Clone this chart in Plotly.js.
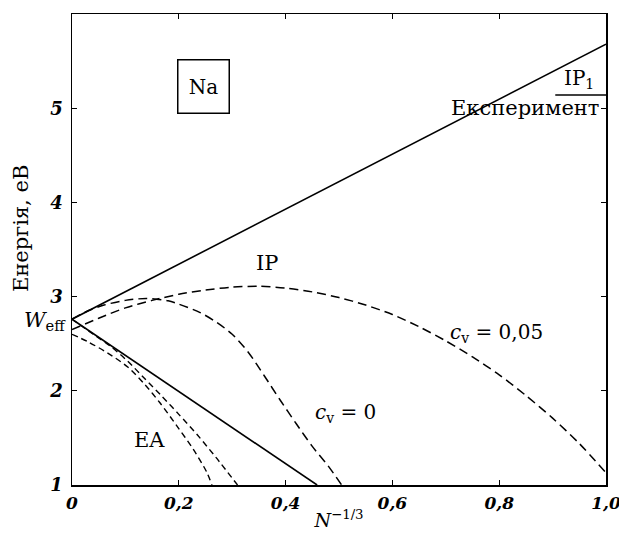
<!DOCTYPE html>
<html>
<head>
<meta charset="utf-8">
<script src="https://cdn.plot.ly/plotly-3.0.1.min.js"></script>
<style>
  html, body { margin: 0; padding: 0; background: #fff; }
  #chart { width: 619px; height: 538px; }
</style>
</head>
<body>
<div id="chart"></div>
<script>
// ---- data ----
const xTickVals = [0, 0.2, 0.4, 0.6, 0.8, 1.0];
const xTickText = ['0', '0,2', '0,4', '0,6', '0,8', '1,0'];
const yTickVals = [1, 2, 3, 4, 5];
const yTickText = ['1', '2', '3', '4', '5'];

// solid lines (experiment-based straight lines)
const ipSolidX = [0, 1.0];
const ipSolidY = [2.76, 5.68];
const eaSolidX = [0, 0.459];
const eaSolidY = [2.76, 1.0];

// dashed IP curves
const ipCv0X = [0, 0.03, 0.06, 0.10, 0.14, 0.18, 0.20, 0.24, 0.27, 0.30, 0.33, 0.36, 0.39, 0.42, 0.45, 0.48, 0.505];
const ipCv0Y = [2.76, 2.85, 2.91, 2.96, 2.98, 2.955, 2.92, 2.83, 2.73, 2.60, 2.41, 2.16, 1.90, 1.65, 1.41, 1.20, 1.0];
const ipCv005X = [0, 0.05, 0.10, 0.15, 0.20, 0.25, 0.30, 0.35, 0.40, 0.45, 0.50, 0.55, 0.60, 0.65, 0.70, 0.75, 0.80, 0.85, 0.90, 0.95, 1.0];
const ipCv005Y = [2.65, 2.77, 2.88, 2.96, 3.025, 3.07, 3.10, 3.11, 3.09, 3.05, 2.99, 2.91, 2.81, 2.68, 2.53, 2.36, 2.17, 1.95, 1.71, 1.44, 1.13];

// dashed EA curves
const ea1X = [0, 0.03, 0.067, 0.105, 0.136, 0.165, 0.196, 0.227, 0.252, 0.262];
const ea1Y = [2.60, 2.52, 2.40, 2.25, 2.07, 1.87, 1.63, 1.38, 1.14, 1.0];
const ea2X = [0, 0.04, 0.075, 0.105, 0.136, 0.167, 0.20, 0.235, 0.27, 0.31];
const ea2Y = [2.76, 2.60, 2.46, 2.31, 2.13, 1.95, 1.75, 1.53, 1.29, 1.0];

// experimental first ionization potential of Na
const expIP1X = [0.905, 1.0];
const expIP1Y = [5.139, 5.139];

const serif = 'DejaVu Serif';

const traces = [
  {x: ipSolidX, y: ipSolidY, mode: 'lines', line: {color: '#000', width: 1.6}},
  {x: eaSolidX, y: eaSolidY, mode: 'lines', line: {color: '#000', width: 1.6}},
  {x: ipCv0X, y: ipCv0Y, mode: 'lines', line: {color: '#000', width: 1.5, dash: '9px,5px', shape: 'spline', smoothing: 0.8}},
  {x: ipCv005X, y: ipCv005Y, mode: 'lines', line: {color: '#000', width: 1.5, dash: '9px,5px', shape: 'spline', smoothing: 0.8}},
  {x: ea1X, y: ea1Y, mode: 'lines', line: {color: '#000', width: 1.4, dash: '6px,4px', shape: 'spline', smoothing: 0.8}},
  {x: ea2X, y: ea2Y, mode: 'lines', line: {color: '#000', width: 1.4, dash: '6px,4px', shape: 'spline', smoothing: 0.8}},
  {x: expIP1X, y: expIP1Y, mode: 'lines', line: {color: '#000', width: 1.5}, cliponaxis: false}
];

const annFont = {family: serif, size: 20, color: '#000'};

const layout = {
  width: 619,
  height: 538,
  margin: {l: 72, r: 13, t: 14, b: 53},
  paper_bgcolor: '#fff',
  plot_bgcolor: '#fff',
  showlegend: false,
  font: {family: serif, color: '#000'},
  xaxis: {
    range: [0, 1.0],
    tickvals: xTickVals,
    ticktext: xTickText,
    ticks: 'inside',
    ticklen: 5,
    tickwidth: 1.2,
    tickcolor: '#000',
    showline: true,
    linecolor: '#000',
    linewidth: 1.5,
    mirror: 'ticks',
    showgrid: false,
    zeroline: false,
    ticklabelstandoff: 2,
    ticklabeloverflow: 'allow',
    tickfont: {family: serif, size: 17, style: 'italic', weight: 'bold', color: '#000'},
    title: {text: '<i>N</i><sup>−1/3</sup>', font: {family: serif, size: 19, color: '#000'}, standoff: 2}
  },
  yaxis: {
    range: [1, 6],
    tickvals: yTickVals,
    ticktext: yTickText,
    ticks: 'inside',
    ticklen: 5,
    tickwidth: 1.2,
    tickcolor: '#000',
    showline: true,
    linecolor: '#000',
    linewidth: 1.5,
    mirror: 'ticks',
    showgrid: false,
    zeroline: false,
    ticklabelstandoff: 4,
    tickfont: {family: serif, size: 18, style: 'italic', weight: 'bold', color: '#000'}
  },
  annotations: [
    {text: 'Енергія, еВ', xref: 'paper', yref: 'y', x: -0.095, y: 3.72, xanchor: 'center', yanchor: 'middle',
     textangle: -90, showarrow: false, font: {family: serif, size: 21, color: '#000'}},
    {text: '<i>W</i><sub>eff</sub>', xref: 'paper', yref: 'y', x: -0.008, y: 2.74, xanchor: 'right', yanchor: 'middle',
     showarrow: false, font: {family: serif, size: 21, color: '#000'}},
    {text: 'Na', xref: 'x', yref: 'y', x: 0.247, y: 5.23, xanchor: 'center', yanchor: 'middle', showarrow: false,
     font: annFont, bordercolor: '#000', borderwidth: 1.5, borderpad: 2, width: 46, height: 48},
    {text: 'IP', xref: 'x', yref: 'y', x: 0.366, y: 3.36, showarrow: false, font: {family: serif, size: 21, color: '#000'}},
    {text: 'EA', xref: 'x', yref: 'y', x: 0.146, y: 1.48, showarrow: false, font: {family: serif, size: 21, color: '#000'}},
    {text: '<i>c</i><sub>v</sub> = 0', xref: 'x', yref: 'y', x: 0.452, y: 1.76, xanchor: 'left', showarrow: false, font: annFont},
    {text: '<i>c</i><sub>v</sub> = 0,05', xref: 'x', yref: 'y', x: 0.705, y: 2.61, xanchor: 'left', showarrow: false, font: annFont},
    {text: 'IP<sub>1</sub>', xref: 'x', yref: 'y', x: 0.95, y: 5.31, xanchor: 'center', showarrow: false, font: annFont},
    {text: 'Експеримент', xref: 'x', yref: 'y', x: 0.99, y: 5.0, xanchor: 'right', yanchor: 'middle', showarrow: false,
     font: {family: serif, size: 21, color: '#000'}}
  ]
};

Plotly.newPlot('chart', traces, layout, {staticPlot: true, displayModeBar: false});
</script>
</body>
</html>
